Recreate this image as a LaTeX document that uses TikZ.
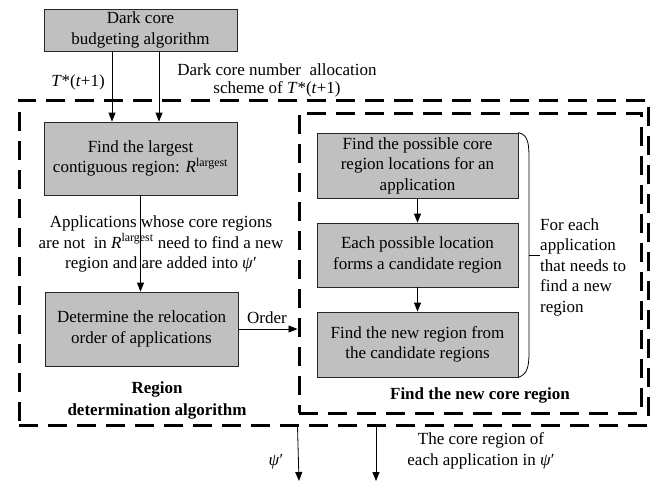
\documentclass[tikz,border=0pt]{standalone}
\usepackage{fontspec}
\setmainfont{Liberation Serif}
\usetikzlibrary{arrows.meta}
\begin{document}
\begin{tikzpicture}[x=1pt,y=-1pt,
  font=\fontsize{17}{20.5}\selectfont,
  procbox/.style={draw=black!85, line width=0.8pt, fill={rgb,255:red,192;green,192;blue,192},
    align=center, inner sep=0pt},
  groupbox/.style={draw=black, line width=3pt, dash pattern=on 19pt off 10pt,
    inner sep=0pt},
  arr/.style={line width=0.8pt, -{Triangle[length=9pt,width=7pt]}},
  plain/.style={line width=0.8pt},
  lbl/.style={align=center, inner sep=0pt},
  hdr/.style={align=center, inner sep=0pt, font=\fontsize{17}{22}\selectfont\bfseries}]
\useasboundingbox (0,0) rectangle (658,483);

% dashed group frames
\node[groupbox, minimum width=629, minimum height=325] (outer) at (333.5,262.5) {};
\node[groupbox, minimum width=342, minimum height=300] (inner) at (470,263) {};

% left column
\node[procbox, minimum width=193, minimum height=42] (budget) at (140.5,30) {Dark core\\budgeting algorithm};
\node[procbox, minimum width=193, minimum height=73] (largest) at (140.5,158.5)
  {Find the largest\\contiguous region: \textit{R}\textsuperscript{largest}};
\node[procbox, minimum width=193, minimum height=74] (order) at (141.5,329)
  {Determine the relocation\\order of applications};

% right column
\node[procbox, minimum width=201, minimum height=65] (locs) at (417.5,165.5)
  {Find the possible core\\region locations for an\\application};
\node[procbox, minimum width=201, minimum height=64] (cand) at (417.5,255)
  {Each possible location\\forms a candidate region};
\node[procbox, minimum width=201, minimum height=65] (newreg) at (417.5,344.5)
  {Find the new region from\\the candidate regions};

% labels
\node[lbl] (tlab) at (78,82) {\textit{T}*(\textit{t}+1)};
\node[lbl, font=\fontsize{17}{18}\selectfont] (schemelab) at (277,80)
  {Dark core number\ \ allocation\\scheme of \textit{T}*(\textit{t}+1)};
\node[lbl] (applab) at (161,244)
  {Applications whose core regions\\are not\ \ in \textit{R}\textsuperscript{largest} need to find a new\\region and are added into \textit{ψ}′};
\node[lbl] (orderlab) at (267,318) {Order};
\node[hdr] (rdalab) at (157,400) {Region\\determination algorithm};
\node[hdr] (fnclab) at (480,395) {Find the new core region};
\node[lbl, align=left, anchor=west] (eachlab) at (540,267)
  {For each\\application\\that needs to\\find a new\\region};
\node[lbl] (psilab) at (276,462) {\textit{ψ}′};
\node[lbl] (resultlab) at (481,451) {The core region of\\each application in \textit{ψ}′};

% connectors
\draw[arr] ([xshift=-28.5pt]budget.south) -- ([xshift=-28.5pt]budget.south |- largest.north);
\draw[arr] ([xshift=18.5pt]budget.south) -- ([xshift=18.5pt]budget.south |- largest.north);
\draw[arr] (largest.south) -- (largest.south |- order.north);
\draw[arr] (order.east) -- (order.east -| inner.west);
\draw[arr] (locs.south) -- (cand.north);
\draw[arr] (cand.south) -- (newreg.north);

% bracket over the three steps
\coordinate (tick) at (540,255);
\draw[plain] (locs.north east) .. controls (529,135) and (529,145) .. (529,162)
  -- (529,352) .. controls (529,368) and (527,374) .. (newreg.south east);
\draw[plain] (529,255) -- (tick);

% outputs
\coordinate (psiend) at (299,481);
\coordinate (resend) at (376,481);
\draw[arr] (inner.west |- outer.south) -- (psiend);
\draw[arr] (outer.south -| resend) -- (resend);
\end{tikzpicture}
\end{document}
